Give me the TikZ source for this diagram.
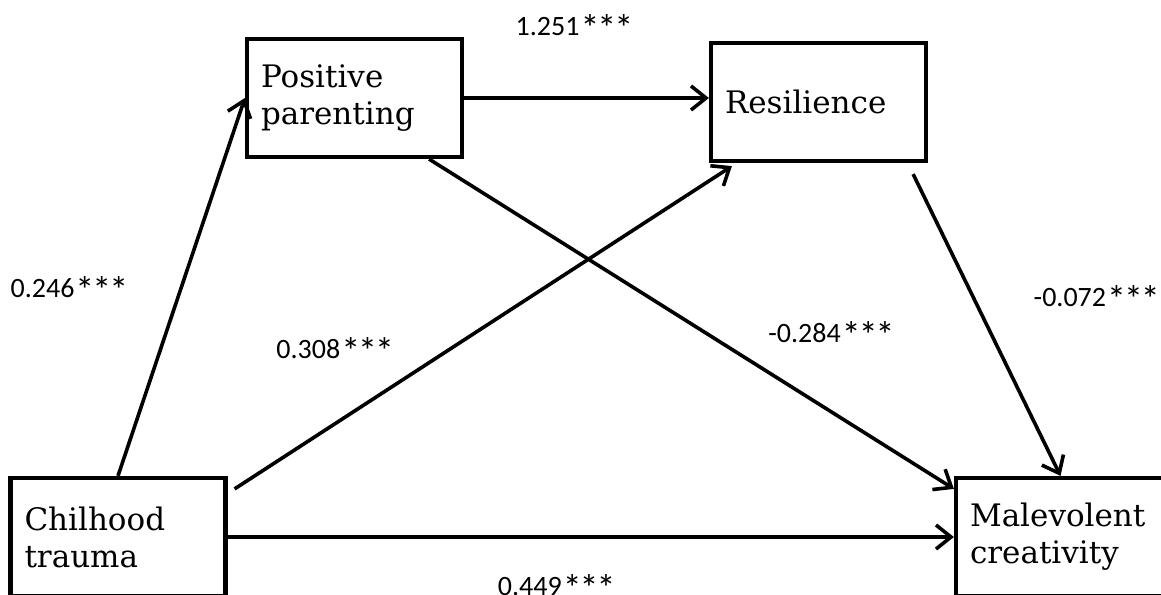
\documentclass[tikz,border=0pt]{standalone}
\usepackage{fontspec}
\setmainfont{DejaVu Serif}
\newfontfamily\lblfont{Carlito}
\usetikzlibrary{positioning, arrows.meta}
\newcommand{\stars}{{\fontsize{38pt}{38pt}\selectfont\raisebox{-6pt}{\kern1pt*\kern-2pt*\kern-2pt*}}}

\begin{document}
\begin{tikzpicture}[x=1pt, y=-1pt, on grid, line width=3.6pt,
    >={Straight Barb[length=15pt, width=24pt]},
    var/.style={draw, line width=4.2pt, minimum width=215pt, minimum height=118pt,
        text width=187pt, inner xsep=14pt, align=left,
        font=\fontsize{31pt}{37pt}\selectfont},
    coef/.style={font=\lblfont\fontsize{28pt}{28pt}\selectfont, inner sep=0pt}]
\clip (0,0) rectangle (1161,594);
\node[var]  (ct)  at (118,537) {Chilhood\\trauma};
\node[var]  (pp)  [above right = 439pt and 236.5pt of ct] {Positive\\parenting};
\node[var]  (res) [right = 464pt of pp, yshift=-4pt] {Resilience};
\node[var]  (mc)  [right = 945.5pt of ct] {Malevolent\\creativity};
\path[->]
    (ct.north)  edge node[coef, xshift=-112pt, yshift=-3pt] {0.246\stars} (pp.west)
    ([shift={(7pt,-13pt)}]ct.north east)
                edge node[coef, xshift=-148pt, yshift=-24pt] {0.308\stars} ([shift={(23pt,-3pt)}]res.south west)
    (ct.east)   edge node[coef, xshift=-34pt, yshift=-51pt] {0.449\stars} (ct.east -| mc.west)
    (pp.east)   edge node[coef, xshift=-12pt, yshift=70pt] {1.251\stars} (pp.east -| res.west)
    ([xshift=-35pt]pp.south east)
                edge node[coef, xshift=140pt, yshift=-11pt] {-0.284\stars} ([yshift=-13pt]mc.north west)
    ([shift={(-15pt,-11pt)}]res.south east)
                edge node[coef, xshift=110pt, yshift=26pt] {-0.072\stars} ([xshift=-3pt]mc.north);
\end{tikzpicture}
\end{document}
